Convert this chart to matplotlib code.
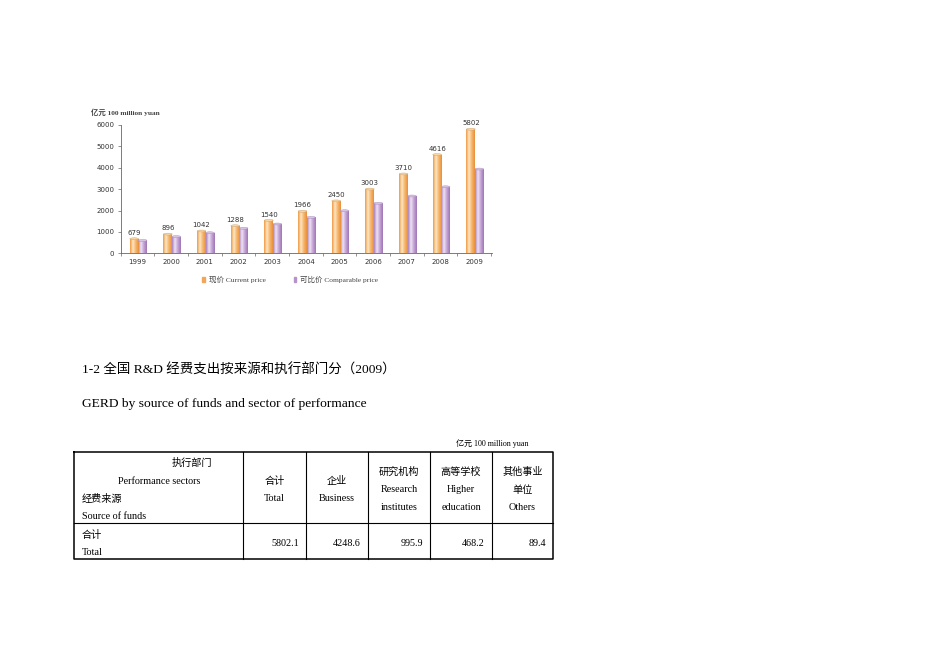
import matplotlib
matplotlib.use("Agg")
import matplotlib.pyplot as plt
import numpy as np
from matplotlib.colors import LinearSegmentedColormap
from matplotlib.patches import Ellipse

plt.rcParams['font.family'] = ['Liberation Serif', 'Noto Sans CJK SC', 'DejaVu Sans']

# chart data
years = ["1999", "2000", "2001", "2002", "2003", "2004", "2005", "2006", "2007", "2008", "2009"]
current_price = [679, 896, 1042, 1288, 1540, 1966, 2450, 3003, 3710, 4616, 5802]
comparable_price = [600, 780, 960, 1170, 1370, 1680, 1990, 2340, 2680, 3110, 3940]

# table data
col_cn = ["合计", "企业", "研究机构", "高等学校", "其他事业\n单位"]
col_en = ["Total", "Business", "Research\ninstitutes", "Higher\neducation", "Others"]
row_total = [5802.1, 4248.6, 995.9, 468.2, 89.4]

fig = plt.figure(figsize=(9.5, 6.72), dpi=100)

# page overlay in pixel coordinates
page = fig.add_axes([0, 0, 1, 1])
page.set_xlim(0, 950)
page.set_ylim(672, 0)
page.axis("off")

# ---- bar chart ----
ax = fig.add_axes([0.1271, 0.6231, 0.3905, 0.1909])
x = np.arange(len(years))
w = 0.26
orange_cmap = LinearSegmentedColormap.from_list("o", ["#EE9A45", "#FDE6C4", "#F6B46A", "#E98E3A"])
purple_cmap = LinearSegmentedColormap.from_list("p", ["#A981BE", "#EEE2F4", "#C3A3D3", "#9F76B6"])

for vals, off, cmap, top_c, edge_c in [(comparable_price, 0.15, purple_cmap, "#D9C4E4", "#A888B8"),
                                       (current_price, -0.1, orange_cmap, "#FBD7A6", "#C8A070")]:
    bars = ax.bar(x + off, vals, width=w, color="none", edgecolor="none", zorder=2)
    grad = np.linspace(0, 1, 64).reshape(1, -1)
    for b in bars:
        x0, h = b.get_x(), b.get_height()
        im = ax.imshow(grad, extent=[x0, x0 + w, 0, h], aspect="auto", cmap=cmap, zorder=2)
        im.set_clip_path(b)
        ax.add_patch(Ellipse((x0 + w / 2, h), w, 90, facecolor=top_c, edgecolor=edge_c, lw=0.3, zorder=3))

for xi, v in zip(x, current_price):
    ax.text(xi - 0.1, v + 130, str(v), ha="center", va="bottom", fontsize=5, color="#333333",
            family="DejaVu Sans")

ax.set_xlim(-0.48, 10.52)
ax.set_ylim(0, 6000)
ax.set_yticks(range(0, 6001, 1000))
ax.set_xticks(x)
ax.set_xticklabels(years)
ax.set_xticks(np.arange(-0.5, 11, 1), minor=True)
ax.tick_params(axis="x", which="major", length=0, labelsize=5, pad=4, labelcolor="#333333")
ax.tick_params(axis="x", which="minor", length=2.5, width=0.5, color="#666666")
ax.tick_params(axis="y", length=2.5, width=0.5, color="#666666", labelsize=5, labelcolor="#333333", pad=2)
for lab in ax.get_xticklabels() + ax.get_yticklabels():
    lab.set_family("DejaVu Sans")
for s in ["top", "right"]:
    ax.spines[s].set_visible(False)
for s in ["left", "bottom"]:
    ax.spines[s].set_color("#666666")
    ax.spines[s].set_linewidth(0.6)
ax.set_facecolor("none")

page.text(91, 112.5, "亿元 100 million yuan", fontsize=5.3, color="#444444", va="center", ha="left",
          fontweight="bold")

# legend
page.add_patch(plt.Rectangle((202, 276.5), 2.5, 5, color="#F2A65A"))
page.text(209, 279, "现价 Current price", fontsize=5.4, color="#444444", va="center")
page.add_patch(plt.Rectangle((293.5, 276.5), 2.5, 5, color="#B593C8"))
page.text(300, 279, "可比价 Comparable price", fontsize=5.4, color="#444444", va="center")

# ---- document text ----
page.text(82, 370, "1-2 全国 R&D 经费支出按来源和执行部门分（2009）", fontsize=9.7, va="center", ha="left")
page.text(82, 403.5, "GERD by source of funds and sector of performance", fontsize=9.7, va="center", ha="left")
page.text(528, 443.5, "亿元 100 million yuan", fontsize=5.8, va="center", ha="right")

# ---- table ----
xs = [74, 243, 306, 368, 430, 492, 553]
top, mid, bot = 452, 523, 559
page.plot([xs[0], xs[-1], xs[-1], xs[0], xs[0]], [top, top, bot, bot, top], color="black", lw=1.1)
page.plot([xs[0], xs[-1]], [mid, mid], color="black", lw=0.8)
for xv in xs[1:-1]:
    page.plot([xv, xv], [top, bot], color="black", lw=0.8)

fs = 7.3
page.text(192, 463, "执行部门", fontsize=fs, ha="center", va="center")
page.text(159, 481, "Performance sectors", fontsize=fs, ha="center", va="center")
page.text(82, 499, "经费来源", fontsize=fs, ha="left", va="center")
page.text(82, 516.5, "Source of funds", fontsize=fs, ha="left", va="center")

for i, (cn, en) in enumerate(zip(col_cn, col_en)):
    cx = (xs[i + 1] + xs[i + 2]) / 2
    lines = cn.split("\n") + en.split("\n")
    if len(lines) == 2:
        ys = [481, 498.5]
    else:
        ys = [472, 490, 508]
    for ln, yy in zip(lines, ys):
        page.text(cx, yy, ln, fontsize=fs, ha="center", va="center")

page.text(82, 535, "合计", fontsize=fs, ha="left", va="center")
page.text(82, 552.5, "Total", fontsize=fs, ha="left", va="center")
for i, v in enumerate(row_total):
    page.text(xs[i + 2] - 7, 544, f"{v:.1f}", fontsize=fs, ha="right", va="center")

fig.savefig("out.png", dpi=100)
